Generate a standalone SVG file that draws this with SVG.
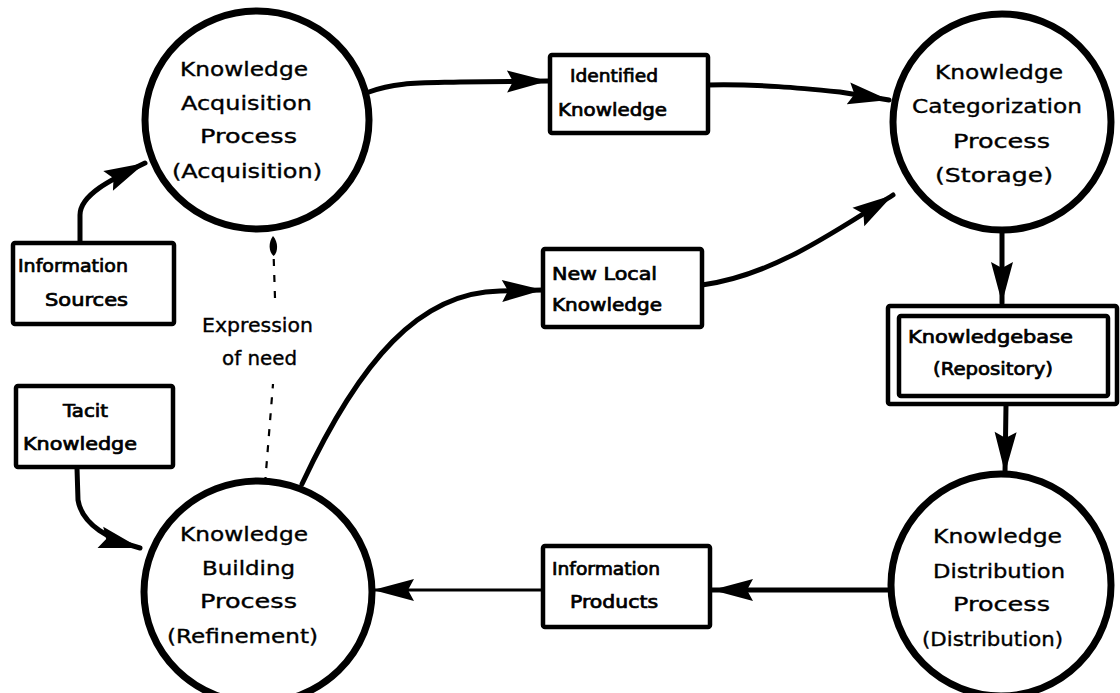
<svg xmlns="http://www.w3.org/2000/svg" width="1120" height="693" viewBox="0 0 1120 693">
  <style>
    .proc { fill: #fff; stroke: #000; stroke-width: 7; }
    .store { fill: #fff; stroke: #000; stroke-width: 4.5; }
    .lbl { font-family: "DejaVu Sans", "Liberation Sans", sans-serif; font-size: 19px; fill: #000; stroke: #000; stroke-width: 0.35; }
    .blbl { font-family: "DejaVu Sans", "Liberation Sans", sans-serif; font-size: 17px; fill: #000; stroke: #000; stroke-width: 0.7; }
    .flow { fill: none; stroke: #000; stroke-width: 5; stroke-linecap: round; }
    .thin { fill: none; stroke: #000; stroke-width: 3; }
    .need { fill: none; stroke: #000; stroke-width: 2.2; stroke-dasharray: 7 9; }
  </style>
  <defs>
    <marker id="head" markerUnits="userSpaceOnUse" viewBox="-44 -12 46 24" markerWidth="46" markerHeight="24" refX="0" refY="0" orient="auto">
      <path d="M0,0 L-41,-11 L-35,0 L-41,11 Z" fill="#000"/>
    </marker>
    <marker id="tip" markerUnits="userSpaceOnUse" viewBox="-22 -6 24 12" markerWidth="24" markerHeight="12" refX="0" refY="0" orient="auto">
      <path d="M0,0 C-6,-5 -16,-5 -20,0 C-16,5 -6,5 0,0 Z" fill="#000"/>
    </marker>
  </defs>

  <rect width="1120" height="693" fill="#fff"/>

  <!-- flows -->
  <g id="connectors">
    <path class="flow" d="M369,92 C395,82 420,83 460,82 L548,81" marker-end="url(#head)"/>
    <path class="flow" d="M708,85 C760,84 800,88 840,92 L889,100" marker-end="url(#head)"/>
    <path class="flow" d="M702,285 C770,276 830,235 893,195" marker-end="url(#head)"/>
    <path class="flow" d="M302,484 C360,360 420,292 500,291 L543,290" marker-end="url(#head)"/>
    <path class="flow" d="M80,242 L80,215 C80,195 110,180 145,163" marker-end="url(#head)"/>
    <path class="flow" d="M77,468 L78,500 C82,525 110,540 140,548" marker-end="url(#head)"/>
    <path class="flow" d="M1002,232 L1002,303" marker-end="url(#head)"/>
    <path class="flow" d="M1006,405 L1005,473" marker-end="url(#head)"/>
    <path class="flow" d="M889,590 L712,590" marker-end="url(#head)"/>
    <path class="thin" d="M543,590 L373,590" marker-end="url(#head)"/>
    <path class="need" d="M265,484 L273,384"/>
    <path class="need" d="M275,298 L273,236" marker-end="url(#tip)"/>
    <text class="lbl" x="202" y="332" textLength="111" lengthAdjust="spacingAndGlyphs">Expression</text>
    <text class="lbl" x="222" y="365" textLength="75" lengthAdjust="spacingAndGlyphs">of need</text>
  </g>

  <!-- processes -->
  <g id="acquisition">
    <ellipse class="proc" cx="257" cy="120" rx="112" ry="109"/>
    <text class="lbl" x="180" y="76" textLength="128" lengthAdjust="spacingAndGlyphs">Knowledge</text>
    <text class="lbl" x="181" y="110" textLength="131" lengthAdjust="spacingAndGlyphs">Acquisition</text>
    <text class="lbl" x="200" y="143" textLength="97" lengthAdjust="spacingAndGlyphs">Process</text>
    <text class="lbl" x="172" y="178" textLength="150" lengthAdjust="spacingAndGlyphs">(Acquisition)</text>
  </g>
  <g id="categorization">
    <ellipse class="proc" cx="1002" cy="122" rx="109" ry="108"/>
    <text class="lbl" x="935" y="79" textLength="128" lengthAdjust="spacingAndGlyphs">Knowledge</text>
    <text class="lbl" x="912" y="113" textLength="170" lengthAdjust="spacingAndGlyphs">Categorization</text>
    <text class="lbl" x="953" y="148" textLength="97" lengthAdjust="spacingAndGlyphs">Process</text>
    <text class="lbl" x="935" y="182" textLength="118" lengthAdjust="spacingAndGlyphs">(Storage)</text>
  </g>
  <g id="distribution">
    <ellipse class="proc" cx="1001" cy="585" rx="110" ry="111"/>
    <text class="lbl" x="933" y="543" textLength="129" lengthAdjust="spacingAndGlyphs">Knowledge</text>
    <text class="lbl" x="933" y="578" textLength="132" lengthAdjust="spacingAndGlyphs">Distribution</text>
    <text class="lbl" x="953" y="611" textLength="97" lengthAdjust="spacingAndGlyphs">Process</text>
    <text class="lbl" x="922" y="646" textLength="141" lengthAdjust="spacingAndGlyphs">(Distribution)</text>
  </g>
  <g id="building">
    <ellipse class="proc" cx="258" cy="592" rx="114" ry="111"/>
    <text class="lbl" x="180" y="541" textLength="128" lengthAdjust="spacingAndGlyphs">Knowledge</text>
    <text class="lbl" x="202" y="575" textLength="93" lengthAdjust="spacingAndGlyphs">Building</text>
    <text class="lbl" x="200" y="608" textLength="97" lengthAdjust="spacingAndGlyphs">Process</text>
    <text class="lbl" x="167" y="643" textLength="151" lengthAdjust="spacingAndGlyphs">(Refinement)</text>
  </g>

  <!-- data items -->
  <g id="identified-knowledge">
    <rect class="store" x="550" y="55" width="158" height="78" rx="2"/>
    <text class="blbl" x="570" y="82" textLength="88" lengthAdjust="spacingAndGlyphs">Identified</text>
    <text class="blbl" x="558" y="116" textLength="109" lengthAdjust="spacingAndGlyphs">Knowledge</text>
  </g>
  <g id="new-local-knowledge">
    <rect class="store" x="543" y="249" width="159" height="78" rx="2"/>
    <text class="blbl" x="552" y="280" textLength="105" lengthAdjust="spacingAndGlyphs">New Local</text>
    <text class="blbl" x="552" y="311" textLength="110" lengthAdjust="spacingAndGlyphs">Knowledge</text>
  </g>
  <g id="information-sources">
    <rect class="store" x="13" y="243" width="161" height="81" rx="2"/>
    <text class="blbl" x="18" y="272" textLength="110" lengthAdjust="spacingAndGlyphs">Information</text>
    <text class="blbl" x="45" y="306" textLength="83" lengthAdjust="spacingAndGlyphs">Sources</text>
  </g>
  <g id="tacit-knowledge">
    <rect class="store" x="16" y="386" width="157" height="81" rx="2"/>
    <text class="blbl" x="63" y="417" textLength="45" lengthAdjust="spacingAndGlyphs">Tacit</text>
    <text class="blbl" x="23" y="450" textLength="114" lengthAdjust="spacingAndGlyphs">Knowledge</text>
  </g>
  <g id="knowledgebase">
    <rect class="store" x="888" y="306" width="229" height="98" rx="2"/>
    <rect class="store" x="899" y="316" width="209" height="80" rx="2"/>
    <text class="blbl" x="908" y="343" textLength="165" lengthAdjust="spacingAndGlyphs">Knowledgebase</text>
    <text class="blbl" x="933" y="375" textLength="120" lengthAdjust="spacingAndGlyphs">(Repository)</text>
  </g>
  <g id="information-products">
    <rect class="store" x="543" y="546" width="167" height="81" rx="2"/>
    <text class="blbl" x="552" y="575" textLength="108" lengthAdjust="spacingAndGlyphs">Information</text>
    <text class="blbl" x="570" y="608" textLength="88" lengthAdjust="spacingAndGlyphs">Products</text>
  </g>
</svg>
